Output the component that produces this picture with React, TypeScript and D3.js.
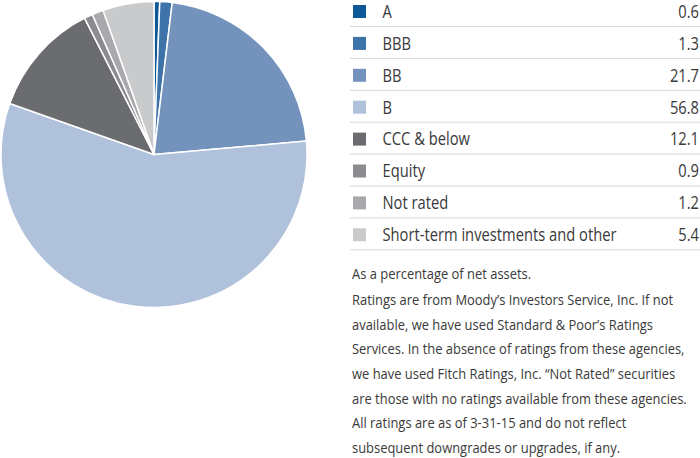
import React, { useEffect, useRef } from "react";
import * as d3 from "d3";

const categories = ["A", "BBB", "BB", "B", "CCC & below", "Equity", "Not rated", "Short-term investments and other"];
const values = [0.6, 1.3, 21.7, 56.8, 12.1, 0.9, 1.2, 5.4];
const valueLabels = ["0.6", "1.3", "21.7", "56.8", "12.1", "0.9", "1.2", "5.4"];
const colors = ["#0d5896", "#3e73a9", "#7393bd", "#b0c1dc", "#6b6c70", "#8b8c8f", "#a8a9ac", "#c9cacc"];
const notes = [
  "As a percentage of net assets.",
  "Ratings are from Moody\u2019s Investors Service, Inc. If not",
  "available, we have used Standard & Poor\u2019s Ratings",
  "Services. In the absence of ratings from these agencies,",
  "we have used Fitch Ratings, Inc. \u201cNot Rated\u201d securities",
  "are those with no ratings available from these agencies.",
  "All ratings are as of 3-31-15 and do not reflect",
  "subsequent downgrades or upgrades, if any.",
];

const W = 700, H = 458;
const FONT = "'Open Sans', 'Noto Sans', sans-serif";
const TEXT = "#3a3a3a";

export default function App() {
  const ref = useRef<SVGSVGElement | null>(null);
  useEffect(() => {
    const svg = d3.select(ref.current);
    svg.selectAll("*").remove();

    // Pie
    const cx = 154, cy = 154.5, r = 153;
    const pie = d3.pie<number>().sort(null).value((d) => d);
    const arc = d3.arc<d3.PieArcDatum<number>>().innerRadius(0).outerRadius(r);
    svg.append("g")
      .attr("transform", `translate(${cx},${cy})`)
      .selectAll("path")
      .data(pie(values))
      .join("path")
      .attr("d", arc)
      .attr("fill", (_, i) => colors[i])
      .attr("stroke", "#fff")
      .attr("stroke-width", 1.5)
      .attr("stroke-linejoin", "round");

    // Legend
    const rowPitch = 31.9;
    const firstLine = 26;
    const band = d3.scaleLinear().domain([0, 1]).range([firstLine, firstLine + rowPitch]);
    const lg = svg.append("g");
    const legFont = 18;
    const probe = lg.append("text").attr("font-family", FONT).attr("font-size", legFont)
      .text(categories[categories.length - 1]);
    const nat = (probe.node() as SVGTextElement).getComputedTextLength();
    probe.remove();
    const kLeg = nat > 0 ? 234 / nat : 1;

    categories.forEach((c, i) => {
      const lineY = band(i);
      const midY = lineY - 14.5;
      lg.append("rect").attr("x", 353).attr("y", midY - 6.5).attr("width", 13).attr("height", 13)
        .attr("fill", colors[i]);
      lg.append("g").attr("transform", `translate(382.5,${midY + 6.3}) scale(${kLeg},1)`)
        .append("text").attr("font-family", FONT).attr("font-size", legFont)
        .attr("fill", TEXT).text(c);
      lg.append("g").attr("transform", `translate(699,${midY + 6.3}) scale(${kLeg},1)`)
        .append("text").attr("font-family", FONT).attr("font-size", legFont)
        .attr("text-anchor", "end").attr("fill", TEXT).text(valueLabels[i]);
      lg.append("line").attr("x1", 350).attr("x2", 700).attr("y1", lineY + 0.5).attr("y2", lineY + 0.5)
        .attr("stroke", "#d6d6d6").attr("stroke-width", 1);
    });

    // Notes
    const nFont = 15;
    const probe2 = svg.append("text").attr("font-family", FONT).attr("font-size", nFont).text(notes[5]);
    const nat2 = (probe2.node() as SVGTextElement).getComputedTextLength();
    probe2.remove();
    const kN = nat2 > 0 ? 335 / nat2 : 1;
    const ng = svg.append("g");
    notes.forEach((t, i) => {
      const baseline = i === 0 ? 279 : 305 + (i - 1) * 24.67;
      ng.append("g").attr("transform", `translate(352,${baseline}) scale(${kN},1)`)
        .append("text").attr("font-family", FONT).attr("font-size", nFont)
        .attr("fill", TEXT).text(t);
    });
  }, []);

  return (
    <svg ref={ref} width={W} height={H}
      style={{ position: "absolute", left: 0, top: 0, background: "#fff" }} />
  );
}
